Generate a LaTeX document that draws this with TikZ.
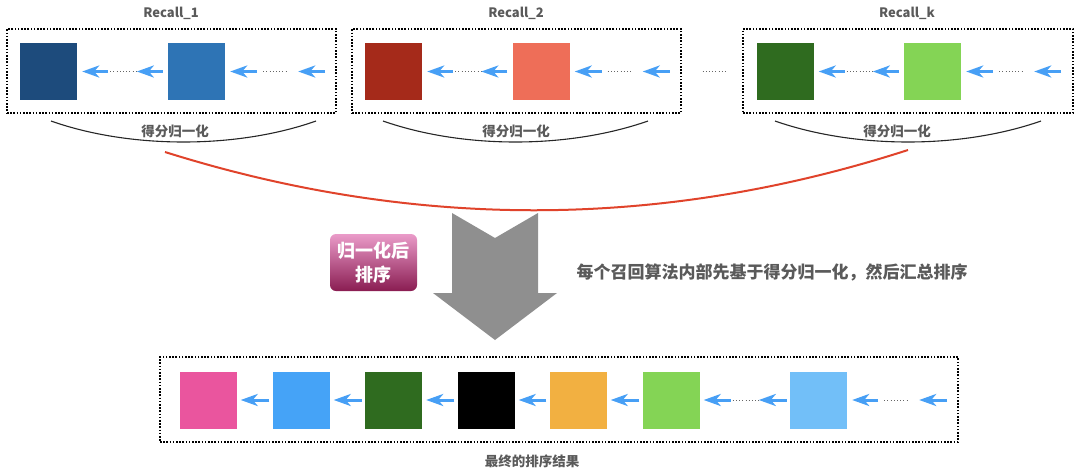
\documentclass[tikz,border=0pt]{standalone}
\usepackage{fontspec}
\setmainfont{Noto Sans CJK SC}
\usetikzlibrary{positioning,arrows.meta,calc,shapes}

\definecolor{navy}{HTML}{1D4B7C}
\definecolor{midblue}{HTML}{2E74B5}
\definecolor{brick}{HTML}{A52A1A}
\definecolor{salmon}{HTML}{EE6E58}
\definecolor{forest}{HTML}{2F6B1F}
\definecolor{lime}{HTML}{84D455}
\definecolor{rose}{HTML}{EA559E}
\definecolor{sky}{HTML}{45A3F7}
\definecolor{amber}{HTML}{F2B041}
\definecolor{pale}{HTML}{72BFF8}
\definecolor{arrowblue}{HTML}{479FF5}
\definecolor{txtgray}{HTML}{5A5A5A}
\definecolor{redline}{HTML}{E0432B}
\definecolor{bigarrow}{HTML}{8F8F8F}
\definecolor{badgetop}{HTML}{EA9BC9}
\definecolor{badgebot}{HTML}{8A1D52}

\begin{document}
\begin{tikzpicture}[x=1pt,y=-1pt,
  blk/.style={rectangle,fill=#1,minimum width=57pt,minimum height=57pt,inner sep=0pt},
  grp/.style={rectangle,draw,line width=1.1pt,dash pattern=on 1.6pt off 1.6pt,minimum height=84pt,inner sep=0pt},
  flow/.style={-{Stealth[length=17pt,width=12pt,inset=5pt]},line width=3pt,arrowblue},
  gap/.style={line width=1pt,dash pattern=on 1pt off 2.2pt,gray!80!black},
  title/.style={font=\fontsize{13}{15}\selectfont\bfseries,text=txtgray},
  note/.style={font=\fontsize{13.5}{16}\selectfont\bfseries,text=txtgray},
  badge/.style={rectangle,rounded corners=6pt,top color=badgetop,bottom color=badgebot,minimum width=87pt,minimum height=57pt,inner sep=0pt,align=center,text=white,font=\fontsize{18}{24}\selectfont\bfseries},
  brace/.style={line width=1.1pt,black!85},
]
\useasboundingbox (0,0) rectangle (1080,474);

% === RECALL GROUPS ===
\node[grp,minimum width=329pt] (r1) at (171.5,71) {};
\node[grp,minimum width=329pt] (r2) at (516.5,71) {};
\node[grp,minimum width=330pt] (r3) at (908,71) {};

\node[title] (t1) at (171,13) {Recall\_1};
\node[title] (t2) at (516,13) {Recall\_2};
\node[title] (t3) at (907,13) {Recall\_k};

\node[blk=navy] (s1a) at (48.5,71.5) {};
\node[blk=midblue] (s1b) at (196.5,71.5) {};
\node[blk=brick] (s2a) at (393.5,71.5) {};
\node[blk=salmon] (s2b) at (541,71.5) {};
\node[blk=forest] (s3a) at (785,71.5) {};
\node[blk=lime] (s3b) at (932.5,71.5) {};

% arrows inside each group
\foreach \g in {1,2,3}{
  \draw[flow] ($(s\g a.east)+(31,0)$) -- ($(s\g a.east)+(5,0)$);
  \draw[gap] ($(s\g a.east)+(33,0)$) -- ($(s\g b.west)+(-31,0)$);
  \draw[flow] ($(s\g b.west)+(-5,0)$) -- ($(s\g b.west)+(-31,0)$);
  \draw[flow] ($(s\g b.east)+(32,0)$) -- ($(s\g b.east)+(5,0)$);
  \draw[gap] ($(s\g b.east)+(38,0)$) -- ($(s\g b.east)+(62,0)$);
  \draw[flow] ($(s\g b.east)+(100,0)$) -- ($(s\g b.east)+(73,0)$);
}
\draw[gap] ($(r2.east)+(21,0)$) -- ($(r3.west)+(-17,0)$);

% score normalisation arcs
\draw[brace] (51,121) .. controls (130,149) and (237,149) .. (316,121);
\draw[brace] (383,121) .. controls (463,149) and (568,149) .. (648,121);
\draw[brace] (775,121) .. controls (855,149) and (961,149) .. (1041,121);
\node[note] (n1) at (175,131) {得分归一化};
\node[note] (n2) at (516,131) {得分归一化};
\node[note] (n3) at (897,131) {得分归一化};

% merge
\draw[line width=2pt,redline] (165,152) .. controls (413,230) and (660,230) .. (908,150);
\fill[bigarrow] (452,213) -- (495,238) -- (538,213) -- (538,293) -- (557,293)
  -- (495,340) -- (433,293) -- (452,293) -- cycle;

\node[badge] (nb) at (373.5,262.5) {归一化后\\排序};
\node[font=\fontsize{17}{20}\selectfont\bfseries,text=txtgray] (desc) at (772,272)
  {每个召回算法内部先基于得分归一化，然后汇总排序};

% === FINAL RANKING ===
\node[grp,minimum width=798pt,minimum height=85pt] (fin) at (559,399.5) {};
\node[blk=rose] (f1) at (208,400) {};
\node[blk=sky] (f2) at (301,400) {};
\node[blk=forest] (f3) at (393.5,400) {};
\node[blk=black] (f4) at (486,400) {};
\node[blk=amber] (f5) at (578,400) {};
\node[blk=lime] (f6) at (671,400) {};
\node[blk=pale] (f7) at (818.5,400) {};

\draw[flow,shorten >=4pt,shorten <=3pt] (f2.west) -- (f1.east);
\draw[flow,shorten >=4pt,shorten <=3pt] (f3.west) -- (f2.east);
\draw[flow,shorten >=4pt,shorten <=3pt] (f4.west) -- (f3.east);
\draw[flow,shorten >=4pt,shorten <=3pt] (f5.west) -- (f4.east);
\draw[flow,shorten >=4pt,shorten <=3pt] (f6.west) -- (f5.east);
\draw[flow] ($(f6.east)+(31,0)$) -- ($(f6.east)+(4,0)$);
\draw[gap] ($(f6.east)+(33,0)$) -- ($(f7.west)+(-31,0)$);
\draw[flow] ($(f7.west)+(-3,0)$) -- ($(f7.west)+(-31,0)$);
\draw[flow] ($(f7.east)+(31,0)$) -- ($(f7.east)+(5,0)$);
\draw[gap] ($(f7.east)+(37,0)$) -- ($(f7.east)+(62,0)$);
\draw[flow] ($(f7.east)+(100,0)$) -- ($(f7.east)+(72,0)$);

\node[note] (res) at (532,461) {最终的排序结果};
\end{tikzpicture}
\end{document}
